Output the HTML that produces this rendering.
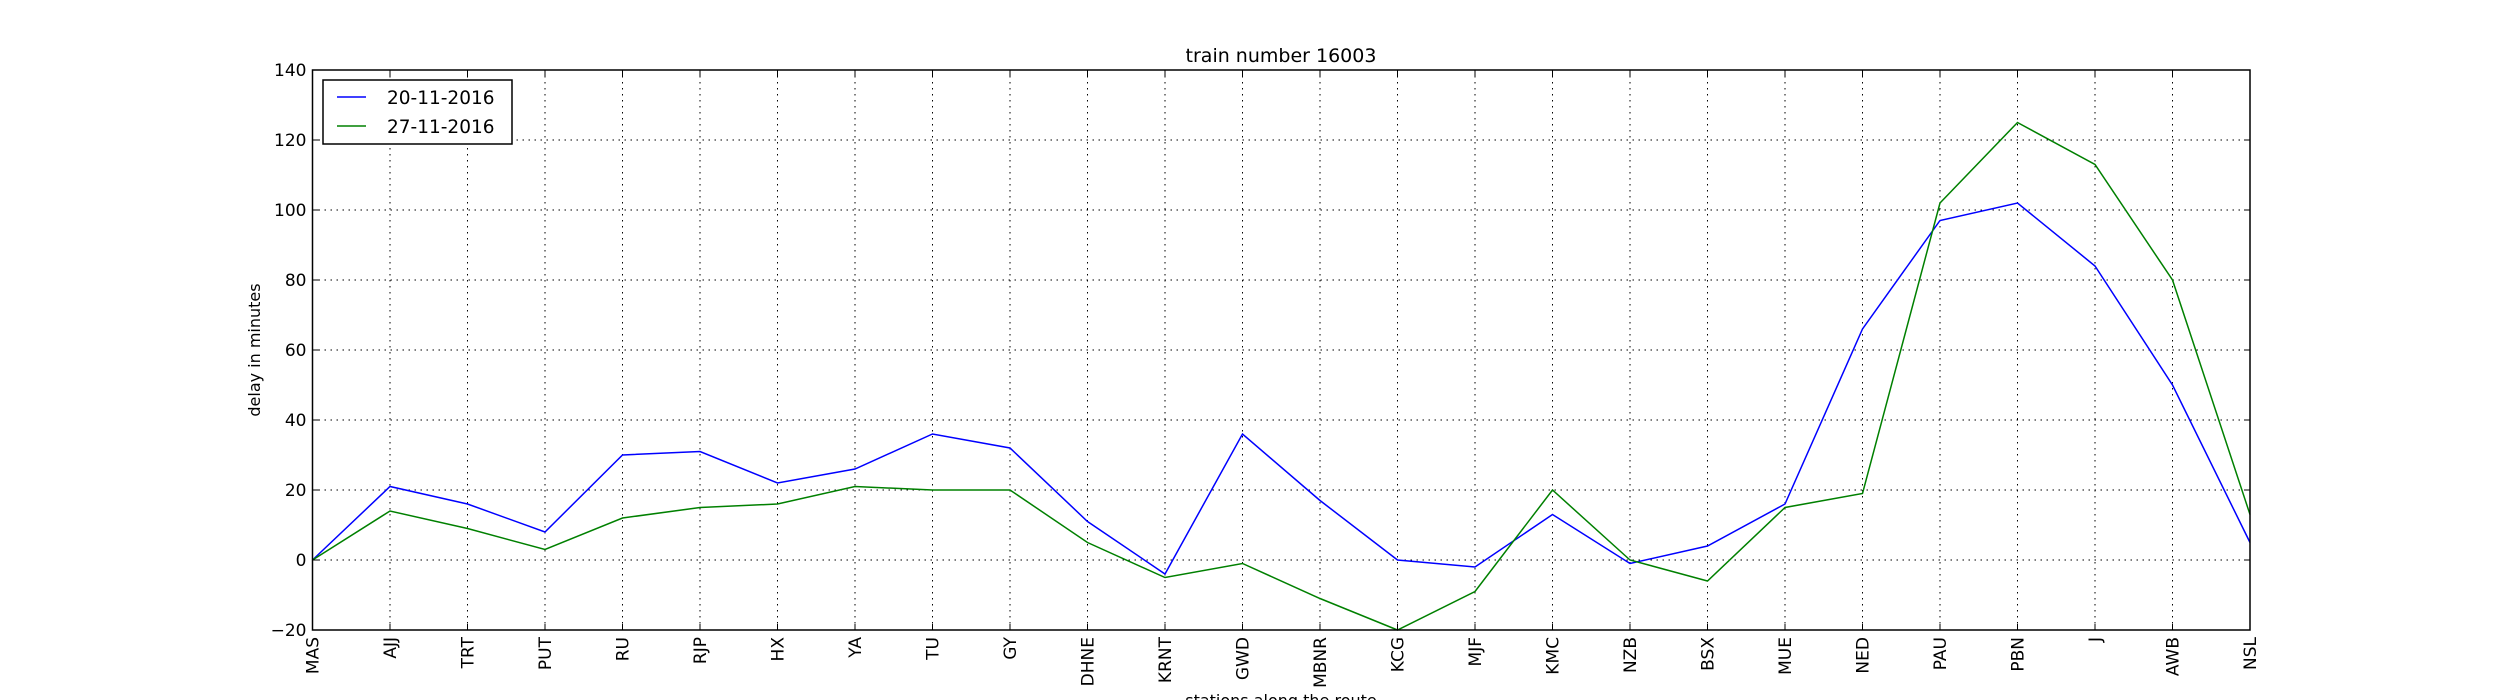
<!DOCTYPE html>
<html><head><meta charset="utf-8"><style>
body{margin:0;background:#fff}
svg{display:block}
text{font-family:"DejaVu Sans","Liberation Sans",sans-serif;fill:#000}
</style></head><body>
<svg id="chart" width="2500" height="700" viewBox="0 0 2500 700" xmlns="http://www.w3.org/2000/svg">
<rect width="2500" height="700" fill="#fff"/>
<g id="grid"></g>
<g id="series"></g>
<rect x="312.5" y="70" width="1937.5" height="560" fill="none" stroke="#000" stroke-width="1.5"/>
<g id="yticks"></g>
<g id="xticks"></g>
<text x="1281" y="62" font-size="19" text-anchor="middle">train number 16003</text>
<text x="260" y="350" font-size="16" text-anchor="middle" transform="rotate(-90 260 350)">delay in minutes</text>
<text x="1281" y="706" font-size="16" text-anchor="middle">stations along the route</text>
<g>
<rect x="323" y="80" width="189" height="64" fill="#fff" stroke="#000" stroke-width="1.5"/>
<line x1="337" y1="97" x2="366" y2="97" stroke="#0000ff" stroke-width="1.5"/>
<text x="387" y="104" font-size="18.5">20-11-2016</text>
<line x1="337" y1="126" x2="366" y2="126" stroke="#008000" stroke-width="1.5"/>
<text x="387" y="133" font-size="18.5">27-11-2016</text>
</g>
</svg>
<script>
const stations = ["MAS","AJJ","TRT","PUT","RU","RJP","HX","YA","TU","GY","DHNE","KRNT","GWD","MBNR","KCG","MJF","KMC","NZB","BSX","MUE","NED","PAU","PBN","J","AWB","NSL"];
const delay20 = [0,21,16,8,30,31,22,26,36,32,11,-4,36,17,0,-2,13,-1,4,16,66,97,102,84,50,5];
const delay27 = [0,14,9,3,12,15,16,21,20,20,5,-5,-1,-11,-20,-9,20,0,-6,15,19,102,125,113,80,13];
const yTicks = [-20,0,20,40,60,80,100,120,140];

const NS="http://www.w3.org/2000/svg";
const L=312.5,R=2250,T=70,B=630,yMin=-20,yMax=140;
const xS=i=>L+(R-L)*i/(stations.length-1);
const yS=v=>B-(v-yMin)/(yMax-yMin)*(B-T);
function mk(tag,attrs,parent){const e=document.createElementNS(NS,tag);for(const k in attrs)e.setAttribute(k,attrs[k]);parent.appendChild(e);return e;}
const grid=document.getElementById('grid'),xt=document.getElementById('xticks'),yt=document.getElementById('yticks'),ser=document.getElementById('series');
yTicks.forEach(v=>{
  const y=yS(v);
  const g=mk('line',{x1:L,x2:R,y1:y,y2:y,stroke:'#000','stroke-width':1,'stroke-dasharray':'1.5,4.5'},grid);
  
  
  const t=mk('text',{x:L-6,y:y+6,'font-size':17,'text-anchor':'end'},yt);
  t.textContent=v<0?'\u2212'+(-v):String(v);
  
  
  mk('line',{x1:L,x2:L+6,y1:y,y2:y,stroke:'#000'},yt);
  mk('line',{x1:R-6,x2:R,y1:y,y2:y,stroke:'#000'},yt);
});
stations.forEach((s,i)=>{
  const x=xS(i);
  const g=mk('line',{x1:x,x2:x,y1:T,y2:B,stroke:'#000','stroke-width':1,'stroke-dasharray':'1.5,4.5'},grid);
  
  
  mk('line',{x1:x,x2:x,y1:B-6,y2:B,stroke:'#000'},xt);
  mk('line',{x1:x,x2:x,y1:T,y2:T+6,stroke:'#000'},xt);
  const t=mk('text',{x:x+6,y:637,'font-size':17,'text-anchor':'end',transform:`rotate(-90 ${x+6} 637)`},xt);
  t.textContent=s;
  
  
});
function line(vals,color,name){
  const p=mk('polyline',{points:vals.map((v,i)=>xS(i)+','+yS(v)).join(' '),fill:'none',stroke:color,'stroke-width':1.5},ser);
  
  
}
line(delay20,'#0000ff','line-20-11-2016');
line(delay27,'#008000','line-27-11-2016');
</script>
</body></html>
